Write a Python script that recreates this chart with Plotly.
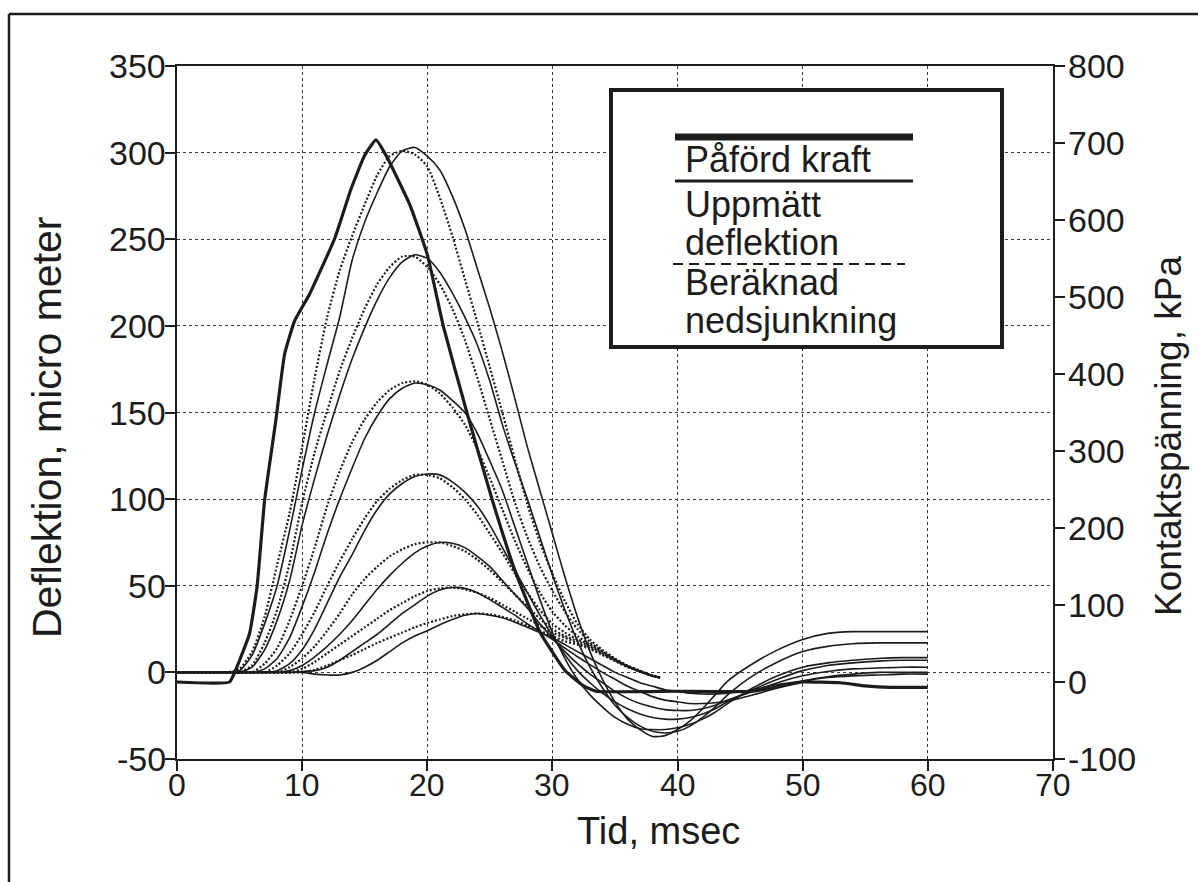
import plotly.graph_objects as go

# ---------------------------------------------------------------------------
# Time axes (ms)
# ---------------------------------------------------------------------------
T_MEAS = list(range(0, 45)) + [46, 48, 50, 52, 54, 56, 58, 60]
T_CALC = list(range(0, 39)) + [38.6]

# Measured deflection, micro meter (seven geophones, nearest first)
MEAS_1 = [0, 0, 0, 0, 0, 1, 10, 28, 50, 82, 117, 150, 178, 205, 238, 260, 277, 292, 301, 303,
          298, 290, 275, 256, 233, 210, 185, 158, 130, 105, 80, 55, 32, 12, -4, -17, -27, -33,
          -37, -36.5, -33, -28, -21, -13, -5,
          5, 13, 19, 22.5, 23.5, 23.5, 23.5, 23.5]
MEAS_2 = [0, 0, 0, 0, 0, 0, 3, 13, 30, 53, 85, 112, 137, 160, 181, 199, 215, 228, 237, 241,
          239, 231, 219, 205, 189, 168, 143, 121, 100, 78, 56, 36, 18, 3, -9, -19, -26, -31,
          -34, -35, -34, -31, -26, -20, -13,
          -2, 6, 12, 15, 16.5, 17, 17, 17]
MEAS_3 = [0, 0, 0, 0, 0, 0, 0, 2, 8, 20, 38, 58, 80, 100, 118, 135, 148, 158, 164, 167,
          166, 163, 157, 150, 138, 122, 105, 84, 63, 42, 23, 8, -4, -13, -20, -26, -30, -32.5,
          -33, -33, -32, -30, -27, -23, -18,
          -9, -2, 3, 5.5, 7, 8, 8.5, 8.5]
MEAS_4 = [0, 0, 0, 0, 0, 0, 0, 0, 1, 5, 13, 25, 40, 55, 68, 82, 94, 103, 109, 113,
          114.5, 114, 110, 104, 96, 85, 72, 59, 46, 33, 21, 10, 1, -6, -12, -17, -21, -24,
          -26, -27, -27, -26, -24, -21, -17,
          -10, -4, 1, 4, 5.5, 6.5, 7, 7]
MEAS_5 = [0, 0, 0, 0, 0, 0, 0, 0, 0, 1, 4, 9, 15, 22, 30, 39, 48, 56, 63, 69,
          73, 75, 74.5, 72, 67, 61, 53, 45, 37, 28, 20, 12, 5, -1, -6, -11, -15, -18,
          -20, -21.5, -22, -22, -21, -19, -16,
          -11, -6, -2, 0.5, 2, 2.5, 3, 3]
MEAS_6 = [0, 0, 0, 0, 0, 0, 0, 0, 0, 0, 0.5, 1, 3, 7, 12, 17, 22, 28, 34, 39,
          44, 47.5, 49, 48.5, 46, 42, 37.5, 33, 28, 23.5, 19, 14, 9, 4.5, 0, -4, -8, -11,
          -14, -16, -17, -18, -18, -17.5, -16.5,
          -13, -9, -5, -2.5, -1, 0, 0, 0]
MEAS_7 = [0, 0, 0, 0, 0, 0, 0, 0, 0, 0, 0, -1, -1.5, -1.5, 0, 3, 7, 12, 17, 21,
          24, 27.5, 30.5, 33, 34, 33, 31.5, 29, 26, 23, 20, 16, 12, 8, 4, 0, -3, -6,
          -8, -10, -11, -12, -12.5, -12.5, -12,
          -10, -7, -5, -3, -2, -1.5, -1, -1]

# Calculated settlement, micro meter (same geophones)
CALC_1 = [0, 0, 0, 0, 0, 2, 12, 32, 62, 92, 130, 170, 205, 232, 252, 270, 287, 298, 301, 299,
          292, 274, 252, 227, 202, 176, 150, 123, 97, 75, 57, 41, 28, 19, 13, 8, 4, 1, -2, -3]
CALC_2 = [0, 0, 0, 0, 0, 0, 4, 17, 36, 63, 98, 127, 151, 174, 193, 210, 224, 234, 240, 240,
          234, 224, 210, 192, 170, 146, 122, 98, 78, 61, 47, 35, 25, 17.5, 12, 7.5, 3.5, 0.5, -2, -3]
CALC_3 = [0, 0, 0, 0, 0, 0, 0, 5, 14, 30, 50, 72, 96, 116, 133, 146, 156, 163, 167, 168,
          166, 161, 153, 143, 129, 112, 94, 76, 60, 46, 35, 27, 21, 16, 12, 7.5, 3.5, 0.5, -2, -3]
CALC_4 = [0, 0, 0, 0, 0, 0, 0, 0, 4, 11, 22, 35, 50, 64, 77, 89, 99, 106, 111, 114,
          114, 112, 107, 100, 91, 80, 69, 57, 46, 36, 28, 23, 19, 16, 12, 7.5, 3.5, 0.5, -2, -3]
CALC_5 = [0, 0, 0, 0, 0, 0, 0, 0, 0, 3, 8, 15, 24, 34, 45, 54, 61, 67, 71, 74,
          75, 75, 73, 70, 65, 59, 52, 45, 38, 31, 25, 21, 18, 15, 11, 7, 3.5, 0.5, -2, -3]
CALC_6 = [0, 0, 0, 0, 0, 0, 0, 0, 0, 0, 2, 6, 11, 16, 21, 26, 31, 36, 40, 44,
          47, 48.5, 49, 48, 46, 43, 39, 35, 31, 27, 23, 20, 17, 14, 10.5, 7, 3.5, 0.5, -2, -3]
CALC_7 = [0, 0, 0, 0, 0, 0, 0, 0, 0, 0, 0, 1.5, 4, 7, 10, 13.5, 17, 20, 23, 26,
          28.5, 30.5, 32.5, 33.5, 34, 33.5, 32, 30, 27, 24, 21, 18, 16, 13.5, 10, 6.5, 3, 0.5, -2, -3]

# Applied load, contact stress in kPa (right axis)
T_FORCE = [0, 4.2, 4.8, 5.8, 6.4, 7.0, 7.9, 8.6, 9.4, 10.6, 12.6, 13.9, 15.0, 15.9, 16.7,
           18.6, 20.0, 21.3, 23.2, 25.2, 27.0, 29.0, 31.0, 32.5, 33.5, 40, 46, 49, 50,
           53, 55, 57, 60]
FORCE_KPA = [0, 0, 20, 63, 124, 236, 340, 426, 469, 504, 576, 640, 684, 704, 684,
             620, 555, 461, 348, 236, 145, 65, 15, -5, -12, -12, -12, -3, 0,
             -1, -5, -7, -7]

X_TICKS = list(range(0, 71, 10))
Y_TICKS = list(range(-50, 351, 50))
Y2_TICKS = list(range(-100, 801, 100))

LEGEND_LABELS = ["Påförd kraft", "Uppmätt", "deflektion", "Beräknad", "nedsjunkning"]

INK = "#1c1c1c"
FONT = "Liberation Sans, Arial, Helvetica, sans-serif"

# Figure geometry in pixels
W, H = 1198, 882
PL, PR, PT, PB = 177, 1053, 66, 759


def px_x(px):
    return (px - PL) / (PR - PL)


def px_y(py):
    return (PB - py) / (PB - PT)


fig = go.Figure()

for vals in [MEAS_1, MEAS_2, MEAS_3, MEAS_4, MEAS_5, MEAS_6, MEAS_7]:
    fig.add_trace(go.Scatter(
        x=T_MEAS, y=vals, mode="lines", yaxis="y",
        line=dict(color=INK, width=1.6, shape="spline", smoothing=0.6),
        hoverinfo="skip", showlegend=False))

for vals in [CALC_1, CALC_2, CALC_3, CALC_4, CALC_5, CALC_6, CALC_7]:
    fig.add_trace(go.Scatter(
        x=T_CALC, y=vals, mode="lines", yaxis="y",
        line=dict(color=INK, width=2.2, dash="2px,2px", shape="spline", smoothing=0.6),
        hoverinfo="skip", showlegend=False))

fig.add_trace(go.Scatter(
    x=T_FORCE, y=FORCE_KPA, mode="lines", yaxis="y2",
    line=dict(color=INK, width=3.2, shape="spline", smoothing=0.4),
    hoverinfo="skip", showlegend=False))

axis_common = dict(
    ticks="outside", ticklen=10, tickwidth=1.5, tickcolor=INK,
    showline=True, linecolor=INK, linewidth=2,
    zeroline=False, showticklabels=False,
)

fig.update_layout(
    width=W, height=H, autosize=False,
    margin=dict(l=PL, r=W - PR, t=PT, b=H - PB, pad=0),
    paper_bgcolor="white", plot_bgcolor="white",
    showlegend=False,
    font=dict(family=FONT, color=INK),
    xaxis=dict(range=[0, 70], tickvals=X_TICKS, mirror=True,
               showgrid=True, gridcolor="#3a3a3a", griddash="dot", gridwidth=1.4,
               **axis_common),
    yaxis=dict(range=[-50, 350], tickvals=Y_TICKS,
               showgrid=True, gridcolor="#3a3a3a", griddash="dot", gridwidth=1.4,
               **axis_common),
    yaxis2=dict(range=[-100, 800], tickvals=Y2_TICKS, overlaying="y", side="right",
                showgrid=False, **axis_common),
)

shapes = []
# page frame
shapes.append(dict(type="line", xref="paper", yref="paper",
                   x0=px_x(9), x1=px_x(9), y0=px_y(14), y1=px_y(882),
                   line=dict(color=INK, width=2.5)))
shapes.append(dict(type="line", xref="paper", yref="paper",
                   x0=px_x(9), x1=px_x(1198), y0=px_y(14), y1=px_y(14),
                   line=dict(color=INK, width=2.5)))
# key box
shapes.append(dict(type="rect", xref="paper", yref="paper", layer="above",
                   x0=px_x(611), x1=px_x(1002), y0=px_y(347), y1=px_y(90),
                   fillcolor="white", line=dict(color=INK, width=4)))
# key samples
shapes.append(dict(type="line", xref="paper", yref="paper", layer="above",
                   x0=px_x(675), x1=px_x(913), y0=px_y(137), y1=px_y(137),
                   line=dict(color=INK, width=7)))
shapes.append(dict(type="line", xref="paper", yref="paper", layer="above",
                   x0=px_x(675), x1=px_x(913), y0=px_y(181), y1=px_y(181),
                   line=dict(color=INK, width=3)))
shapes.append(dict(type="line", xref="paper", yref="paper", layer="above",
                   x0=px_x(673), x1=px_x(905), y0=px_y(264), y1=px_y(264),
                   line=dict(color=INK, width=1.8, dash="10px,6px")))
fig.update_layout(shapes=shapes)

annotations = []

# tick labels
for v in X_TICKS:
    annotations.append(dict(text=str(v), xref="x", yref="paper", x=v, y=px_y(785),
                            xanchor="center", yanchor="middle", showarrow=False,
                            font=dict(family=FONT, size=32, color=INK)))
for v in Y_TICKS:
    annotations.append(dict(text=str(v), xref="paper", yref="y", x=px_x(168), y=v,
                            xanchor="right", yanchor="middle", showarrow=False,
                            font=dict(family=FONT, size=34, color=INK)))
for v in Y2_TICKS:
    annotations.append(dict(text=str(v), xref="paper", yref="y2", x=px_x(1066), y=v,
                            xanchor="left", yanchor="middle", showarrow=False,
                            font=dict(family=FONT, size=34, color=INK)))

# key labels
for label, cy in zip(LEGEND_LABELS, [159, 204, 242, 282, 320]):
    annotations.append(dict(text=label, xref="paper", yref="paper",
                            x=px_x(683), y=px_y(cy), xanchor="left", yanchor="middle",
                            showarrow=False, font=dict(family=FONT, size=36, color=INK)))

# axis titles
annotations.append(dict(text="Tid, msec", xref="paper", yref="paper",
                        x=px_x(658), y=px_y(831), xanchor="center", yanchor="middle",
                        showarrow=False, font=dict(family=FONT, size=38, color=INK)))
annotations.append(dict(text="Deflektion, micro meter", xref="paper", yref="paper",
                        x=px_x(47), y=px_y(427), xanchor="center", yanchor="middle",
                        textangle=-90, showarrow=False,
                        font=dict(family=FONT, size=41, color=INK)))
annotations.append(dict(text="Kontaktspänning, kPa", xref="paper", yref="paper",
                        x=px_x(1168), y=px_y(436), xanchor="center", yanchor="middle",
                        textangle=-90, showarrow=False,
                        font=dict(family=FONT, size=37, color=INK)))
fig.update_layout(annotations=annotations)

fig.write_html("out.html")
